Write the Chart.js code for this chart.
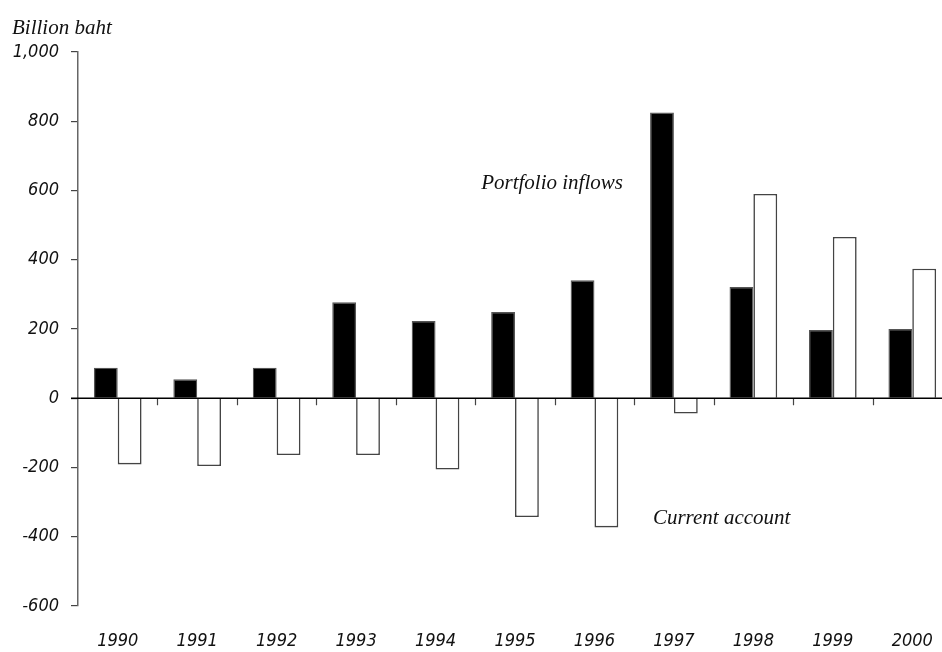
<!DOCTYPE html>
<html lang="en">
<head>
    <meta charset="UTF-8">
    <title>Portfolio inflows and current account</title>
    <script src="https://cdn.jsdelivr.net/npm/chart.js"></script>
    <style>
        html, body { margin: 0; padding: 0; overflow: hidden; background: #fff; }
        #wrap { width: 962px; height: 652px; }
    </style>
</head>
<body>
    <div id="wrap"><canvas id="myChart"></canvas></div>
    <script>
        // Data (billion baht)
        const years = ['1990', '1991', '1992', '1993', '1994', '1995', '1996', '1997', '1998', '1999', '2000'];
        const portfolioInflows = [88, 55, 88, 277, 223, 249, 341, 825, 321, 197, 200];
        const currentAccount = [-191, -196, -164, -164, -206, -343, -373, -44, 590, 466, 374];
        const yTicks = [-600, -400, -200, 0, 200, 400, 600, 800, 1000];

        const numFont = { family: "'DejaVu Sans Condensed', 'Liberation Sans Narrow', 'DejaVu Sans', sans-serif", size: 18, style: 'italic' };
        const serifFont = "italic 21px 'Liberation Serif', 'DejaVu Serif', serif";

        // zero line, category ticks on it, and the text labels
        const extrasPlugin = {
            id: 'extras',
            afterDatasetsDraw: (chart) => {
                const ctx = chart.ctx;
                const x = chart.scales.x;
                const y = chart.scales.y;
                const y0 = y.getPixelForValue(0);
                const half = (x.getPixelForValue(1) - x.getPixelForValue(0)) / 2;

                ctx.save();
                ctx.strokeStyle = '#444';
                ctx.lineWidth = 1.2;
                for (let i = 0; i < years.length - 1; i++) {
                    const px = Math.round(x.getPixelForValue(i) + half) + 0.5;
                    ctx.beginPath();
                    ctx.moveTo(px, y0);
                    ctx.lineTo(px, y0 + 7);
                    ctx.stroke();
                }
                ctx.strokeStyle = '#000';
                ctx.lineWidth = 1.6;
                ctx.beginPath();
                ctx.moveTo(chart.chartArea.left - 7, y0);
                ctx.lineTo(chart.width, y0);
                ctx.stroke();

                ctx.fillStyle = '#111';
                ctx.font = serifFont;
                ctx.textBaseline = 'middle';
                ctx.textAlign = 'left';
                ctx.fillText('Billion baht', 12, 28);
                ctx.textAlign = 'right';
                ctx.fillText('Portfolio inflows', x.getPixelForValue(7) - 51, y.getPixelForValue(619));
                ctx.textAlign = 'left';
                ctx.fillText('Current account', x.getPixelForValue(7) - 21, y.getPixelForValue(-348));
                ctx.restore();
            }
        };

        const ctx = document.getElementById('myChart').getContext('2d');
        const chart = new Chart(ctx, {
            type: 'bar',
            data: {
                labels: years,
                datasets: [{
                    label: 'Portfolio inflows',
                    data: portfolioInflows,
                    backgroundColor: '#000',
                    borderColor: '#555',
                    borderWidth: 1.2
                }, {
                    label: 'Current account',
                    data: currentAccount,
                    backgroundColor: '#fff',
                    borderColor: '#444',
                    borderWidth: 1.6
                }]
            },
            plugins: [extrasPlugin],
            options: {
                responsive: true,
                maintainAspectRatio: false,
                animation: false,
                layout: { padding: { top: 52, right: 10, left: 0, bottom: 0 } },
                plugins: {
                    legend: { display: false },
                    tooltip: { enabled: false }
                },
                datasets: {
                    bar: { categoryPercentage: 0.6, barPercentage: 1.0 }
                },
                scales: {
                    x: {
                        grid: { display: false },
                        border: { display: false },
                        ticks: { color: '#111', font: numFont, padding: 17, maxRotation: 0 },
                        afterFit: (s) => { s.height = 46; }
                    },
                    y: {
                        min: -600,
                        max: 1000,
                        afterBuildTicks: (s) => { s.ticks = yTicks.map(v => ({ value: v })); },
                        grid: { drawOnChartArea: false, color: '#444', tickLength: 7, lineWidth: 1.2 },
                        border: { color: '#666', width: 1.5 },
                        ticks: { color: '#111', font: numFont, padding: 12 },
                        afterFit: (s) => { s.width = 78; }
                    }
                }
            }
        });
    </script>
</body>
</html>
